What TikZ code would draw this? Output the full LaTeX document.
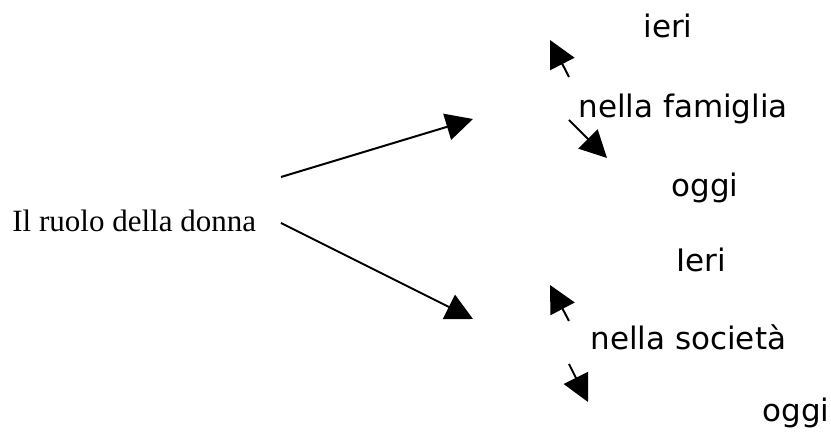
\documentclass[tikz,border=0pt]{standalone}
\usepackage{fontspec}
\setmainfont{Liberation Serif}
\newfontfamily\verdana{DejaVu Sans}
\usepackage{tikz}
\usetikzlibrary{arrows.meta,positioning}

\begin{document}
\begin{tikzpicture}[x=0.5pt, y=-0.5pt,
  every node/.style={inner sep=0pt, anchor=base},
  title/.style={font=\fontsize{15.5}{18}\selectfont},
  word/.style={font=\verdana\fontsize{15.5}{18}\selectfont},
  arr/.style={-{Triangle[length=13.5pt, width=13.5pt]}, line width=1pt}]
  \useasboundingbox (0,0) rectangle (831,432);

  \node[title, anchor=base west] (donna) at (12,232) {Il ruolo della donna};
  \node[word] (ieri1) at (668,38) {ieri};
  \node[word, anchor=base west] (famiglia) at (578,118) {nella famiglia};
  \node[word] (oggi1) at (705,197) {oggi};
  \node[word] (ieri2) at (701,272) {Ieri};
  \node[word, anchor=base west] (societa) at (590,350) {nella società};
  \node[word, anchor=base west] (oggi2) at (762,422) {oggi};

  % ends of the arrows
  \coordinate (d1) at (281,177);
  \coordinate (d2) at (281,223);
  \coordinate (t1) at (473,119);
  \coordinate (t2) at (473,319);
  \coordinate (f1) at (569,77);
  \coordinate (f2) at (569,120);
  \coordinate (fi) at (550,40);
  \coordinate (fo) at (607,158);
  \coordinate (s1) at (569,321);
  \coordinate (s2) at (569,364);
  \coordinate (si) at (550,285);
  \coordinate (so) at (588,402);

  \draw[arr] (d1) -- (t1);
  \draw[arr] (d2) -- (t2);
  \draw[arr] (f1) -- (fi);
  \draw[arr] (f2) -- (fo);
  \draw[arr] (s1) -- (si);
  \draw[arr] (s2) -- (so);
\end{tikzpicture}
\end{document}
